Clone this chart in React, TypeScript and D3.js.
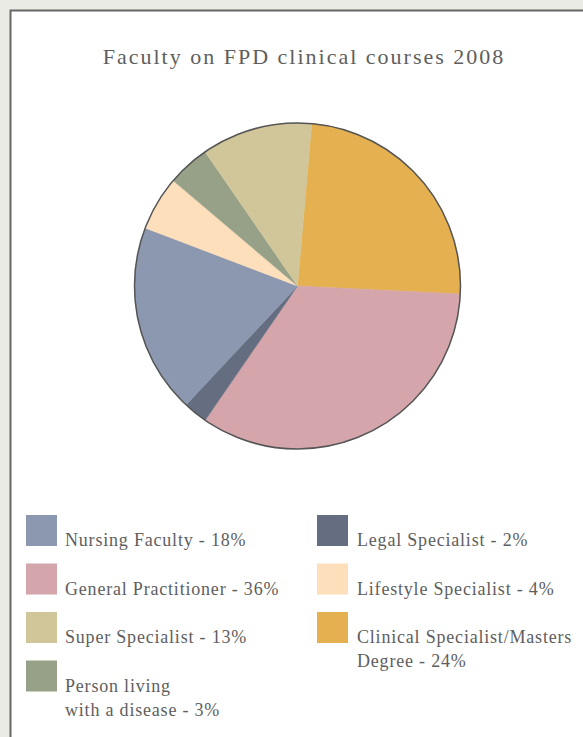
import React, { useEffect, useRef } from 'react';
import * as d3 from 'd3';

// slices in drawing order, clockwise from just right of 12 o'clock
const categories = [
  'Clinical Specialist/Masters Degree',
  'General Practitioner',
  'Legal Specialist',
  'Nursing Faculty',
  'Lifestyle Specialist',
  'Person living with a disease',
  'Super Specialist',
];
const sliceValues = [24.4, 33.8, 2.4, 18.8, 5.4, 4.2, 11.0];
const sliceColors = ['#e5b150', '#d4a5ab', '#656e80', '#8c97b0', '#fde0bb', '#97a188', '#d1c699'];

// legend entries as printed (two columns)
const legendLeft = [
  { cat: 'Nursing Faculty', lines: ['Nursing Faculty - 18%'] },
  { cat: 'General Practitioner', lines: ['General Practitioner - 36%'] },
  { cat: 'Super Specialist', lines: ['Super Specialist - 13%'] },
  { cat: 'Person living with a disease', lines: ['Person living', 'with a disease - 3%'] },
];
const legendRight = [
  { cat: 'Legal Specialist', lines: ['Legal Specialist - 2%'] },
  { cat: 'Lifestyle Specialist', lines: ['Lifestyle Specialist - 4%'] },
  { cat: 'Clinical Specialist/Masters Degree', lines: ['Clinical Specialist/Masters', 'Degree - 24%'] },
];

const title = 'Faculty on FPD clinical courses 2008';

const W = 583;
const H = 737;

const App = () => {
  const ref = useRef<SVGSVGElement>(null);

  useEffect(() => {
    if (!ref.current) return;
    const svg = d3.select(ref.current);
    svg.selectAll('*').remove();

    const font = '"Liberation Serif", "DejaVu Serif", serif';
    const textColor = '#5e5e5e';

    // page background and framed panel
    svg.append('rect').attr('width', W).attr('height', H).attr('fill', '#ebebe5');
    svg.append('rect')
      .attr('x', 10.5)
      .attr('y', 10.5)
      .attr('width', W + 20)
      .attr('height', H + 20)
      .attr('fill', '#ffffff')
      .attr('stroke', '#666666')
      .attr('stroke-width', 2);

    // title
    svg.append('text')
      .attr('x', 304)
      .attr('y', 64)
      .attr('text-anchor', 'middle')
      .style('font-family', font)
      .style('font-size', '22px')
      .style('letter-spacing', '2px')
      .style('fill', textColor)
      .text(title);

    // pie
    const cx = 297.5;
    const cy = 286;
    const r = 163;
    const color = d3.scaleOrdinal<string, string>().domain(categories).range(sliceColors);

    const pie = d3.pie<number>()
      .sort(null)
      .value(d => d)
      .startAngle((5 * Math.PI) / 180)
      .endAngle((365 * Math.PI) / 180);
    const arc = d3.arc<d3.PieArcDatum<number>>().innerRadius(0).outerRadius(r);

    const g = svg.append('g').attr('transform', `translate(${cx},${cy})`);
    g.selectAll('path')
      .data(pie(sliceValues))
      .enter()
      .append('path')
      .attr('d', arc)
      .attr('fill', (d, i) => color(categories[i]))
      .attr('stroke', (d, i) => color(categories[i]))
      .attr('stroke-width', 0.5);

    g.append('circle')
      .attr('r', r)
      .attr('fill', 'none')
      .attr('stroke', '#555555')
      .attr('stroke-width', 1.5);

    // legend
    const drawColumn = (items: { cat: string; lines: string[] }[], x: number, textX: number) => {
      items.forEach((item, i) => {
        const y = 515 + i * 48.5;
        svg.append('rect')
          .attr('x', x)
          .attr('y', y)
          .attr('width', 31)
          .attr('height', 31)
          .attr('fill', color(item.cat));
        item.lines.forEach((line, j) => {
          svg.append('text')
            .attr('x', textX)
            .attr('y', y + 31 + j * 24)
            .style('font-family', font)
            .style('font-size', '18px')
            .style('letter-spacing', '0.8px')
            .style('fill', textColor)
            .text(line);
        });
      });
    };
    drawColumn(legendLeft, 26, 65);
    drawColumn(legendRight, 317, 357);
  }, []);

  return (
    <div style={{ position: 'absolute', left: 0, top: 0 }}>
      <svg ref={ref} width={W} height={H} style={{ display: 'block' }} />
    </div>
  );
};

export default App;
